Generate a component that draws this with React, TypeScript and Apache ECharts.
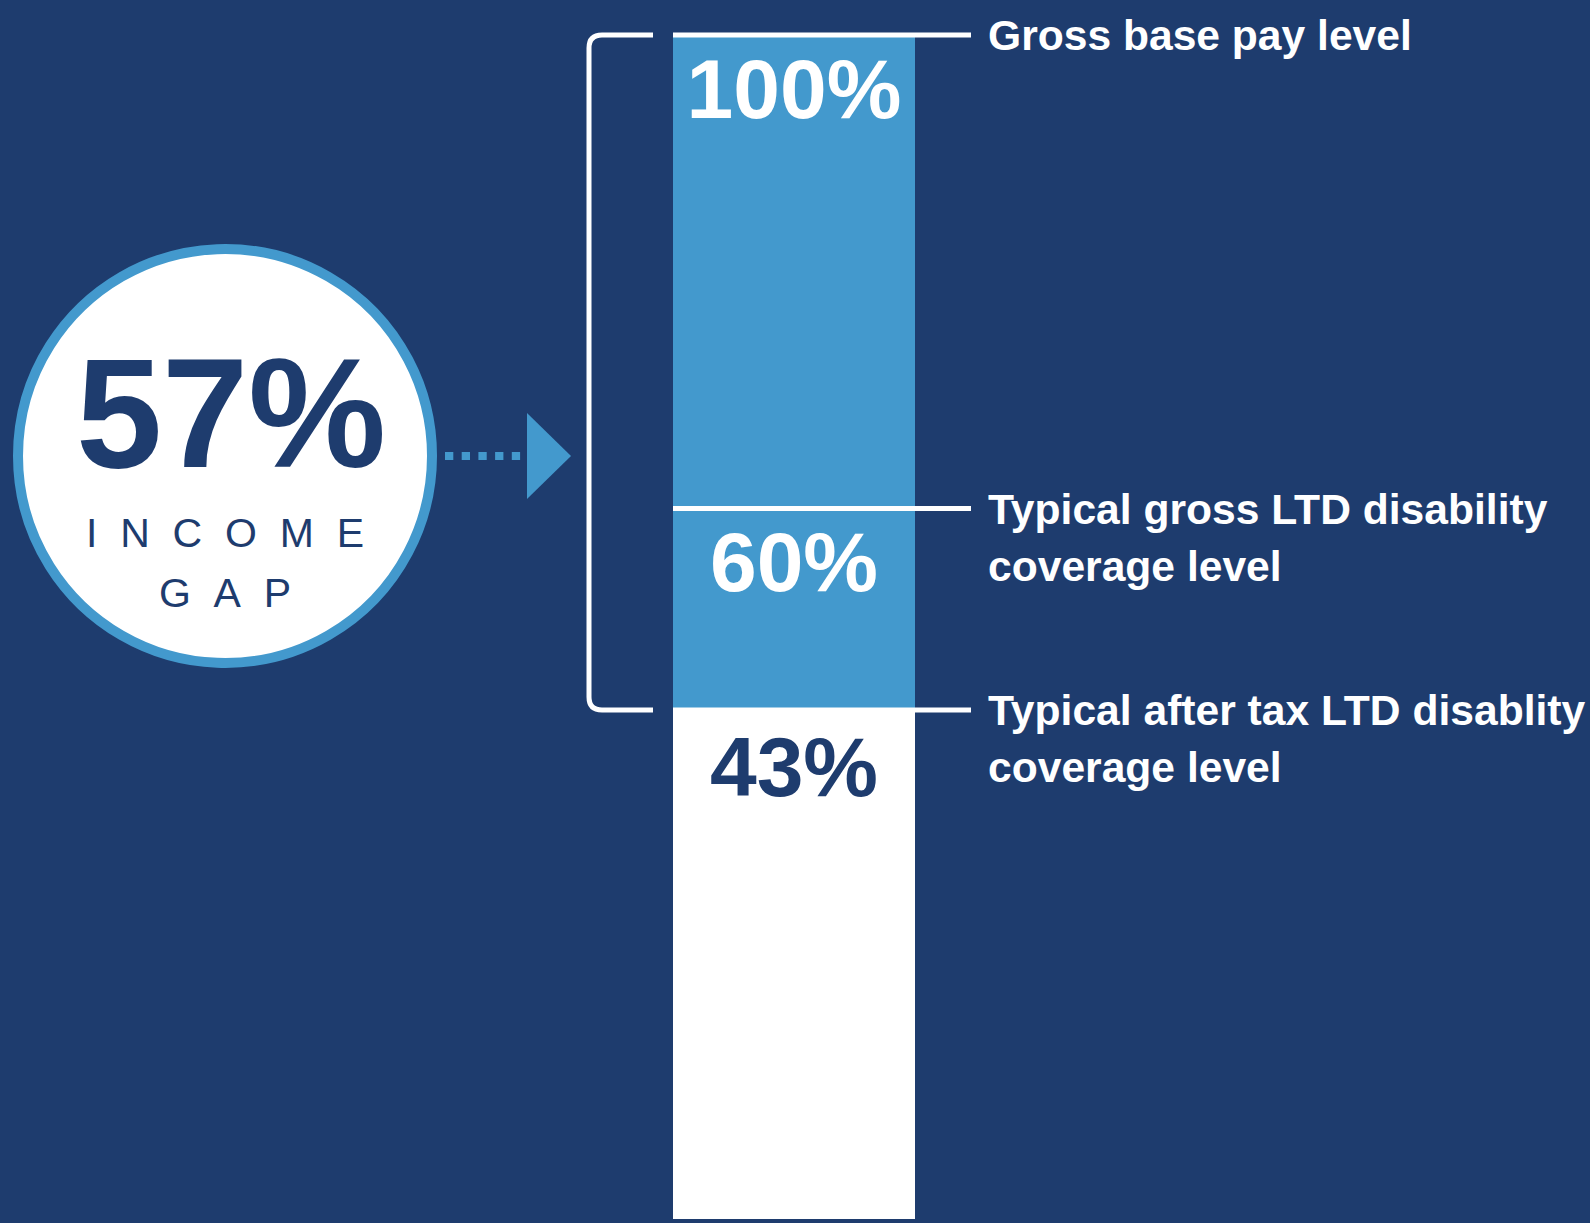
import React, { useEffect, useRef } from "react";
import * as echarts from "echarts";

// ---- data ----
const categories = ["Pay level"];
const levels = [100, 60, 43];
const levelLabels = [
  "Gross base pay level",
  "Typical gross LTD disability\ncoverage level",
  "Typical after tax LTD disablity\ncoverage level",
];
const gapCaption = ["INCOME", "GAP"];

// ---- styles ----
const NAVY = "#1e3c6e";
const BLUE = "#4399cd";
const WHITE = "#ffffff";
const FONT = "'Liberation Sans', Arial, Helvetica, sans-serif";
const BAR_FILLS = [BLUE, BLUE, WHITE];
const LABEL_FILLS = [WHITE, WHITE, NAVY];
const LABEL_DIST = [12, 11, 15];

export default function App() {
  const ref = useRef<HTMLDivElement>(null);

  useEffect(() => {
    const chart = echarts.init(ref.current as HTMLDivElement, null, { renderer: "svg" });
    const gap = levels[0] - levels[levels.length - 1];
    const spaced = (w: string) => w.split("").join("\u2007");

    const barSeries = levels.map((v, i) => ({
      type: "bar",
      name: levelLabels[i],
      data: [v],
      barWidth: "100%",
      barGap: "-100%",
      silent: true,
      z: 2,
      itemStyle: { color: BAR_FILLS[i] },
      label: {
        show: true,
        position: "insideTop",
        distance: LABEL_DIST[i],
        formatter: "{c}%",
        color: LABEL_FILLS[i],
        fontSize: 84,
        lineHeight: 84,
        fontWeight: "bold",
        fontFamily: FONT,
        textBorderWidth: 0,
      },
    }));

    const annotation = {
      type: "custom",
      silent: true,
      clip: false,
      z: 5,
      data: levels.map((v, i) => [0, v, i]),
      renderItem: (params: any, api: any) => {
        const idx = api.value(2);
        const pt = api.coord([api.value(0), api.value(1)]);
        const w = api.size([1, 0])[0];
        const x1 = pt[0] - w / 2;
        const x2 = pt[0] + w / 2 + 56;
        return {
          type: "group",
          children: [
            {
              type: "line",
              shape: { x1, y1: pt[1], x2, y2: pt[1] },
              style: { stroke: WHITE, lineWidth: 5 },
            },
            {
              type: "text",
              x: x2 + 17,
              y: pt[1] - 28.5,
              style: {
                text: levelLabels[idx],
                fill: WHITE,
                fontSize: 42.6,
                fontWeight: "bold",
                fontFamily: FONT,
                lineHeight: 57,
                align: "left",
                verticalAlign: "top",
              },
            },
          ],
        };
      },
    };

    const bracket = {
      type: "custom",
      silent: true,
      clip: false,
      z: 5,
      data: [[0, levels[0], levels[levels.length - 1]]],
      renderItem: (params: any, api: any) => {
        const top = api.coord([api.value(0), api.value(1)]);
        const bot = api.coord([api.value(0), api.value(2)]);
        const w = api.size([1, 0])[0];
        const xr = top[0] - w / 2 - 20;
        const xl = top[0] - w / 2 - 84;
        const r = 13;
        const d =
          `M${xr} ${top[1]} L${xl + r} ${top[1]} Q${xl} ${top[1]} ${xl} ${top[1] + r} ` +
          `L${xl} ${bot[1] - r} Q${xl} ${bot[1]} ${xl + r} ${bot[1]} L${xr} ${bot[1]}`;
        return {
          type: "path",
          shape: { pathData: d },
          style: { stroke: WHITE, lineWidth: 5, fill: "none" },
        };
      },
    };

    chart.setOption({
      animation: false,
      backgroundColor: NAVY,
      grid: { left: 673, top: 35, width: 242, bottom: 4 },
      xAxis: { type: "category", data: categories, show: false, boundaryGap: true },
      yAxis: { type: "value", min: 0, max: 100, show: false, splitLine: { show: false } },
      series: [...barSeries, annotation, bracket],
      graphic: [
        {
          type: "circle",
          shape: { cx: 225, cy: 456, r: 207 },
          style: { fill: WHITE, stroke: BLUE, lineWidth: 10 },
        },
        {
          type: "text",
          x: 231,
          y: 413,
          style: {
            text: `${gap}%`,
            fill: NAVY,
            fontSize: 155,
            fontWeight: "bold",
            fontFamily: FONT,
            align: "center",
            verticalAlign: "middle",
          },
        },
        {
          type: "text",
          x: 225,
          y: 533,
          style: {
            text: spaced(gapCaption[0]),
            fill: NAVY,
            fontSize: 41,
            fontFamily: FONT,
            align: "center",
            verticalAlign: "middle",
          },
        },
        {
          type: "text",
          x: 225,
          y: 593,
          style: {
            text: spaced(gapCaption[1]),
            fill: NAVY,
            fontSize: 41,
            fontFamily: FONT,
            align: "center",
            verticalAlign: "middle",
          },
        },
        {
          type: "line",
          shape: { x1: 445, y1: 456, x2: 521, y2: 456 },
          style: { stroke: BLUE, lineWidth: 8, lineDash: [8.3, 8.4] },
        },
        {
          type: "polygon",
          shape: { points: [[527, 413], [527, 499], [571, 456]] },
          style: { fill: BLUE },
        },
      ],
    });

    return () => chart.dispose();
  }, []);

  return (
    <div
      ref={ref}
      style={{ position: "fixed", left: 0, top: 0, width: 1590, height: 1223 }}
    />
  );
}
